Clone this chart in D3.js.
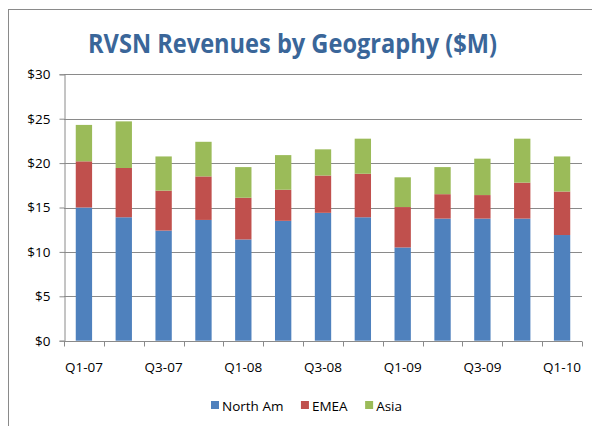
<!DOCTYPE html>
<html lang="en">
<head>
    <meta charset="UTF-8">
    <title>RVSN Revenues by Geography</title>
    <script src="https://d3js.org/d3.v7.min.js"></script>
</head>

<style>
    body {
        margin: 0;
        background: #fff;
    }

    text {
        font-family: "Open Sans", sans-serif;
        fill: #000;
    }
</style>

<body>
<svg width="592" height="426"></svg>

<script>
    // values ($M)
    var quarters = ["Q1-07", "Q2-07", "Q3-07", "Q4-07", "Q1-08", "Q2-08", "Q3-08",
                    "Q4-08", "Q1-09", "Q2-09", "Q3-09", "Q4-09", "Q1-10"];
    var northAm = [15.0, 13.9, 12.4, 13.6, 11.4, 13.5, 14.4, 13.9, 10.5, 13.75, 13.75, 13.75, 11.9];
    var emea    = [5.2, 5.55, 4.5, 4.9, 4.7, 3.5, 4.2, 4.9, 4.55, 2.75, 2.65, 4.05, 4.9];
    var asia    = [4.1, 5.25, 3.85, 3.9, 3.45, 3.9, 2.95, 3.95, 3.35, 3.05, 4.1, 4.95, 3.95];
    var seriesNames = ["North Am", "EMEA", "Asia"];
    var yTicks = [0, 5, 10, 15, 20, 25, 30];

    var colors = ["#4F81BD", "#C0504D", "#9BBB59"];

    var svg = d3.select("svg");

    // chart area frame
    svg.append("rect")
        .attr("x", 8.5).attr("y", 9.5)
        .attr("width", 700).attr("height", 600)
        .attr("fill", "#fff")
        .attr("stroke", "#8a8a8a");

    svg.append("text")
        .attr("x", 88).attr("y", 53)
        .attr("textLength", 409)
        .attr("lengthAdjust", "spacingAndGlyphs")
        .style("font-size", "27px")
        .style("font-weight", "bold")
        .style("fill", "#3A6699")
        .text("RVSN Revenues by Geography ($M)");

    var plotLeft = 64, plotRight = 582, plotTop = 74.3, plotBottom = 340.7;

    var x = d3.scaleBand().domain(quarters).range([plotLeft, plotRight]).paddingInner(0.59).paddingOuter(0.295);
    var y = d3.scaleLinear().domain([0, 30]).range([plotBottom, plotTop]);

    // gridlines
    svg.append("g")
        .selectAll("line")
        .data(yTicks.slice(1))
        .enter().append("line")
        .attr("x1", plotLeft).attr("x2", plotRight)
        .attr("y1", function(d) { return Math.round(y(d)) + 0.5; })
        .attr("y2", function(d) { return Math.round(y(d)) + 0.5; })
        .attr("stroke", "#8a8a8a");

    var table = quarters.map(function(q, i) {
        return {q: q, "North Am": northAm[i], "EMEA": emea[i], "Asia": asia[i]};
    });
    var stacked = d3.stack().keys(seriesNames)(table);

    svg.append("g")
        .selectAll("g")
        .data(stacked)
        .enter().append("g")
        .attr("fill", function(d, i) { return colors[i]; })
        .selectAll("rect")
        .data(function(d) { return d; })
        .enter().append("rect")
        .attr("x", function(d) { return x(d.data.q); })
        .attr("width", x.bandwidth())
        .attr("y", function(d) { return y(d[1]); })
        .attr("height", function(d) { return y(d[0]) - y(d[1]); });

    // y axis
    var yAxis = svg.append("g")
        .attr("transform", "translate(" + (plotLeft + 0.5) + ",0)")
        .call(d3.axisLeft(y).tickValues(yTicks).tickSize(5).tickPadding(9)
            .tickFormat(function(d) { return "$" + d; }));
    yAxis.selectAll("text").style("font-size", "13.5px").style("font-family", "'Open Sans', sans-serif");
    yAxis.select(".domain").attr("stroke", "#8a8a8a");
    yAxis.selectAll(".tick line").attr("stroke", "#8a8a8a");

    // x axis: ticks on category boundaries, every other label
    var bounds = quarters.map(function(q) { return x(q) - x.step() * x.paddingInner() / 2; });
    bounds.push(plotRight);
    var xAxis = svg.append("g").attr("transform", "translate(0," + (Math.round(plotBottom) + 0.5) + ")");
    xAxis.append("line")
        .attr("x1", plotLeft).attr("x2", plotRight)
        .attr("stroke", "#8a8a8a");
    xAxis.selectAll("line.tk")
        .data(bounds)
        .enter().append("line")
        .attr("class", "tk")
        .attr("x1", function(d) { return Math.round(d) + 0.5; })
        .attr("x2", function(d) { return Math.round(d) + 0.5; })
        .attr("y1", 0).attr("y2", 5)
        .attr("stroke", "#8a8a8a");
    xAxis.selectAll("text")
        .data(quarters.filter(function(q, i) { return i % 2 === 0; }))
        .enter().append("text")
        .attr("x", function(d) { return x(d) + x.bandwidth() / 2; })
        .attr("y", 30)
        .attr("text-anchor", "middle")
        .style("font-size", "13.5px")
        .text(function(d) { return d; });

    // legend
    var legend = svg.append("g").attr("transform", "translate(211,406)");
    var lx = 0;
    seriesNames.forEach(function(name, i) {
        var g = legend.append("g").attr("transform", "translate(" + lx + ",0)");
        g.append("rect")
            .attr("x", 0).attr("y", -5)
            .attr("width", 8).attr("height", 8)
            .attr("fill", colors[i]);
        var t = g.append("text")
            .attr("x", 11).attr("y", 4.5)
            .style("font-size", "13.5px")
            .text(name);
        lx += 11 + t.node().getComputedTextLength() + 17.5;
    });
</script>
</body>
</html>
